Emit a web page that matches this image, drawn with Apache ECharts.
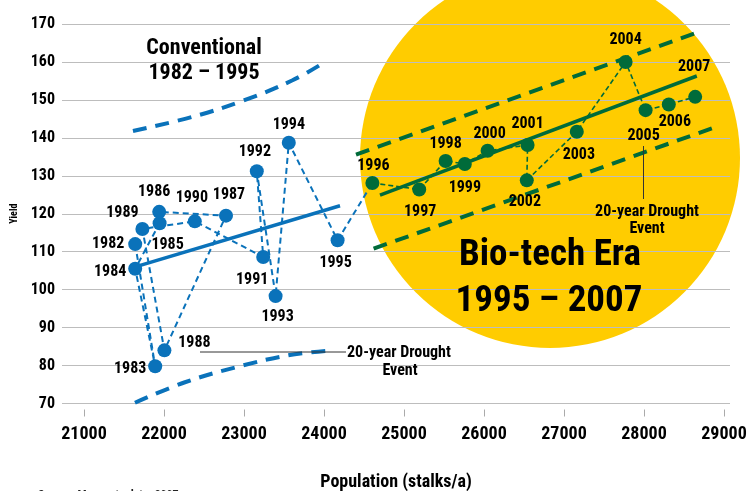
<!DOCTYPE html>
<html>
<head>
<meta charset="utf-8">
<script src="https://cdn.jsdelivr.net/npm/echarts@6/dist/echarts.min.js"></script>
<style>
html,body{margin:0;padding:0;background:#fff;}
#c{width:747px;height:491px;}
</style>
</head>
<body>
<div id="c"></div>
<script>
// ---- data ----
const blueYears = [1982, 1983, 1984, 1985, 1986, 1987, 1988, 1989, 1990, 1991, 1992, 1993, 1994, 1995];
const bluePop = [21640, 21890, 21640, 21945, 21940, 22775, 22005, 21730, 22385, 23240, 23160, 23395, 23560, 24170];
const blueYield = [112, 79.8, 105.5, 117.5, 120.5, 119.5, 84, 116, 118, 108.6, 131.2, 98.3, 138.7, 113];

const greenYears = [1996, 1997, 1998, 1999, 2000, 2001, 2002, 2003, 2004, 2005, 2006, 2007];
const greenPop = [24605, 25190, 25520, 25760, 26045, 26545, 26535, 27160, 27770, 28020, 28310, 28640];
const greenYield = [128.1, 126.4, 133.9, 133.1, 136.6, 138.1, 128.8, 141.6, 160, 147.3, 148.8, 150.8];

const blueTrendPop = [21640, 24200];
const blueTrendYield = [106, 122.1];
const blueUpperPop = [21612, 22350, 22975, 23600, 24012];
const blueUpperYield = [141.8, 145.5, 149.7, 155.1, 160];
const blueLowerPop = [21637, 22262, 22909, 23554, 24096];
const blueLowerYield = [70.2, 75.6, 79.6, 82.7, 84.0];

const greenTrendPop = [24700, 28660];
const greenTrendYield = [124.9, 156.3];
const greenUpperPop = [24400, 28670];
const greenUpperYield = [135.6, 167.8];
const greenLowerPop = [24620, 28900];
const greenLowerYield = [110.8, 142.9];

const xTicks = [21000, 22000, 23000, 24000, 25000, 26000, 27000, 28000, 29000];
const yMin = 70, yMax = 170, yStep = 10;

// ---- styles ----
const FONT = '"Roboto Condensed", "Open Sans", sans-serif';
const BLUE = '#0a72ba';
const GREEN = '#006b3a';
const YELLOW = '#ffcc00';
const labelOffset = {
  1982: [-27, 0], 1983: [-25, 3], 1984: [-25, 3], 1985: [8, 22], 1986: [-5, -20],
  1987: [3, -21], 1988: [30, -7], 1989: [-20, -16], 1990: [-3, -23], 1991: [-11, 23],
  1992: [-2, -19], 1993: [2, 21], 1994: [0, -18], 1995: [-2, 23],
  1996: [1, -17], 1997: [1, 23], 1998: [0, -17], 1999: [0, 24], 2000: [2, -17],
  2001: [0, -21], 2002: [-2, 22], 2003: [2, 23], 2004: [0, -22], 2005: [-2, 26],
  2006: [6, 18], 2007: [-1, -30]
};

function pairs(xs, ys) { return xs.map((x, i) => [x, ys[i]]); }
function pts(xs, ys, years) {
  return xs.map((x, i) => ({
    value: [x, ys[i], years[i]],
    label: { offset: labelOffset[years[i]] || [0, -18] }
  }));
}

const chart = echarts.init(document.getElementById('c'), null, { renderer: 'canvas' });

const labelStyle = {
  show: true, position: 'inside', color: '#000', fontFamily: FONT,
  fontWeight: 'bold', fontSize: 16, formatter: p => String(p.value[2])
};

const bandStyle = (c) => ({ color: c, width: 4, type: [14, 9] });
const txt = (x, y, text, size, align) => ({
  type: 'text', z: 100, silent: true,
  style: { x: x, y: y, text: text, fill: '#000', font: 'bold ' + size + 'px ' + FONT,
           textAlign: align || 'center', textVerticalAlign: 'middle' }
});

chart.setOption({
  animation: false,
  textStyle: { fontFamily: FONT },
  grid: { left: 62, right: 17, top: 24, bottom: 87.5, containLabel: false, outerBoundsMode: 'none' },
  xAxis: {
    type: 'value', min: 20725, max: 29075, offset: 6,
    axisLine: { show: false },
    axisTick: { show: true, customValues: xTicks, length: 7, lineStyle: { color: '#aaa', width: 1 } },
    axisLabel: { customValues: xTicks, formatter: v => String(v), margin: 16, fontSize: 18, fontWeight: 'bold', color: '#000', fontFamily: FONT },
    splitLine: { show: false },
    name: 'Population (stalks/a)', nameLocation: 'middle', nameGap: 64,
    nameTextStyle: { fontSize: 18, fontWeight: 'bold', color: '#000', fontFamily: FONT }
  },
  yAxis: {
    type: 'value', min: yMin, max: yMax, interval: yStep,
    axisLine: { show: false }, axisTick: { show: false },
    axisLabel: { margin: 7, fontSize: 16, fontWeight: 'bold', color: '#000', fontFamily: FONT },
    splitLine: { lineStyle: { color: '#bdbdbd', width: 1.2 } },
    name: 'Yield', nameLocation: 'middle', nameGap: 41,
    nameTextStyle: { fontSize: 10, fontWeight: 'bold', color: '#000', fontFamily: FONT }
  },
  graphic: {
    elements: [
      { type: 'circle', z: -10, silent: true, shape: { cx: 550, cy: 158, r: 190 }, style: { fill: YELLOW } },
      txt(204, 48, 'Conventional', 22),
      txt(204, 73, '1982 – 1995', 22),
      txt(550, 256, 'Bio-tech Era', 37),
      txt(549, 302, '1995 – 2007', 37),
      { type: 'line', z: 100, silent: true, shape: { x1: 200, y1: 352, x2: 346, y2: 352 }, style: { stroke: '#333', lineWidth: 1 } },
      txt(347, 353, '20-year Drought', 16, 'left'),
      txt(400, 371, 'Event', 16),
      { type: 'line', z: 100, silent: true, shape: { x1: 643.5, y1: 146, x2: 643.5, y2: 199 }, style: { stroke: '#333', lineWidth: 1 } },
      txt(647, 212, '20-year Drought', 16),
      txt(647, 229, 'Event', 16),
      { type: 'text', z: 100, silent: true, style: { x: 38, y: 489.5, text: 'Source: Monsanto data, 2007', fill: '#222', font: 'bold 12px ' + FONT, textAlign: 'left', textVerticalAlign: 'top' } }
    ]
  },
  series: [
    { type: 'line', name: 'blue path', data: pairs(bluePop, blueYield).concat([[greenPop[0], greenYield[0]]]),
      showSymbol: false, symbol: 'none', lineStyle: { color: BLUE, width: 2, type: [6, 4] }, z: 2, silent: true },
    { type: 'line', name: 'green path', data: pairs(greenPop, greenYield),
      showSymbol: false, symbol: 'none', lineStyle: { color: GREEN, width: 1.6, type: [5, 3] }, z: 2, silent: true },
    { type: 'line', name: 'blue trend', data: pairs(blueTrendPop, blueTrendYield), symbol: 'none',
      lineStyle: { color: BLUE, width: 3.5 }, z: 3, silent: true },
    { type: 'line', name: 'blue upper', data: pairs(blueUpperPop, blueUpperYield), symbol: 'none', smooth: 0.4,
      lineStyle: bandStyle(BLUE), z: 3, silent: true },
    { type: 'line', name: 'blue lower', data: pairs(blueLowerPop, blueLowerYield), symbol: 'none', smooth: 0.4,
      lineStyle: bandStyle(BLUE), z: 3, silent: true },
    { type: 'line', name: 'green trend', data: pairs(greenTrendPop, greenTrendYield), symbol: 'none',
      lineStyle: { color: GREEN, width: 3.5 }, z: 3, silent: true },
    { type: 'line', name: 'green upper', data: pairs(greenUpperPop, greenUpperYield), symbol: 'none',
      lineStyle: bandStyle(GREEN), z: 3, silent: true },
    { type: 'line', name: 'green lower', data: pairs(greenLowerPop, greenLowerYield), symbol: 'none',
      lineStyle: bandStyle(GREEN), z: 3, silent: true },
    { type: 'scatter', name: 'Conventional', data: pts(bluePop, blueYield, blueYears), symbolSize: 14,
      itemStyle: { color: BLUE, opacity: 1 }, label: labelStyle, z: 5, silent: true },
    { type: 'scatter', name: 'Bio-tech', data: pts(greenPop, greenYield, greenYears), symbolSize: 14,
      itemStyle: { color: GREEN, opacity: 1 }, label: labelStyle, z: 5, silent: true }
  ]
});
</script>
</body>
</html>
